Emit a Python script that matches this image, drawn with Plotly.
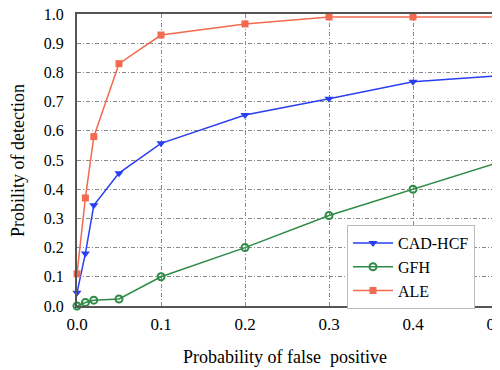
import plotly.graph_objects as go

x_vals = [0.0, 0.01, 0.02, 0.05, 0.1, 0.2, 0.3, 0.4, 0.5]
cad_hcf = [0.045, 0.18, 0.345, 0.455, 0.557, 0.654, 0.71, 0.768, 0.788]
gfh = [0.0, 0.012, 0.02, 0.024, 0.1, 0.2, 0.31, 0.40, 0.49]
ale = [0.11, 0.37, 0.58, 0.83, 0.928, 0.966, 0.99, 0.99, 0.99]

x_ticks = [0.0, 0.1, 0.2, 0.3, 0.4, 0.5]
x_tick_labels = ["0.0", "0.1", "0.2", "0.3", "0.4", "0.5"]
y_ticks = [0.0, 0.1, 0.2, 0.3, 0.4, 0.5, 0.6, 0.7, 0.8, 0.9, 1.0]
y_tick_labels = ["0.0", "0.1", "0.2", "0.3", "0.4", "0.5", "0.6", "0.7", "0.8", "0.9", "1.0"]

FONT = "Liberation Serif, Times New Roman, serif"

# The page body adds an 8px offset; margins compensate so the plot area
# sits at page x 77..497, y 14..306.
OFF = 8
L, R, T, B = 77 - OFF, 3 + OFF, 14 - OFF, 64 + OFF
PW, PH = 500 - L - R, 370 - T - B

fig = go.Figure()
fig.add_trace(go.Scatter(x=x_vals, y=cad_hcf, name="CAD-HCF", mode="lines+markers",
                         line=dict(color="#2a3ff0", width=1.5),
                         marker=dict(symbol="triangle-down", size=8, color="#2a3ff0"),
                         cliponaxis=False))
fig.add_trace(go.Scatter(x=x_vals, y=gfh, name="GFH", mode="lines+markers",
                         line=dict(color="#2e8b45", width=1.5),
                         marker=dict(symbol="circle-open", size=7, color="#2e8b45",
                                     line=dict(width=2, color="#2e8b45")),
                         cliponaxis=False))
fig.add_trace(go.Scatter(x=x_vals, y=ale, name="ALE", mode="lines+markers",
                         line=dict(color="#f26a50", width=1.5),
                         marker=dict(symbol="square", size=7, color="#f26a50"),
                         cliponaxis=False))

grid = dict(showgrid=True, gridcolor="#8a8a8a", griddash="4px,2px,1px,2px", gridwidth=1,
            showline=True, linecolor="#555555", linewidth=2, mirror=True,
            zeroline=False, ticks="", automargin=False, ticklabeloverflow="allow")

fig.update_layout(
    width=500, height=370,
    margin=dict(l=L, r=R, t=T, b=B),
    paper_bgcolor="white", plot_bgcolor="white",
    font=dict(family=FONT, size=17, color="black"),
    showlegend=True,
    legend=dict(x=(347 - 77) / PW, y=(306 - 225) / PH, xanchor="left", yanchor="top",
                bgcolor="white", bordercolor="#bbbbbb", borderwidth=1,
                font=dict(family=FONT, size=16), tracegroupgap=0,
                itemwidth=40),
    xaxis=dict(range=[0, 0.5], tickvals=x_ticks, ticktext=x_tick_labels,
               ticklabelstandoff=2,
               tickfont=dict(family=FONT, size=17, color="black"), **grid),
    yaxis=dict(range=[0, 1.0], tickvals=y_ticks, ticktext=y_tick_labels,
               ticklabelstandoff=8,
               tickfont=dict(family=FONT, size=16, color="black"), **grid),
    annotations=[
        dict(text="Probability of false  positive", xref="paper", yref="paper",
             x=(285 - 77) / PW, y=-(357 - 306) / PH, showarrow=False,
             xanchor="center", yanchor="middle", font=dict(family=FONT, size=18)),
        dict(text="Probility of detection", xref="paper", yref="paper",
             x=-(77 - 18) / PW, y=(306 - 161) / PH, showarrow=False, textangle=-90,
             xanchor="center", yanchor="middle", font=dict(family=FONT, size=18)),
    ],
)

fig.write_html("out.html")
